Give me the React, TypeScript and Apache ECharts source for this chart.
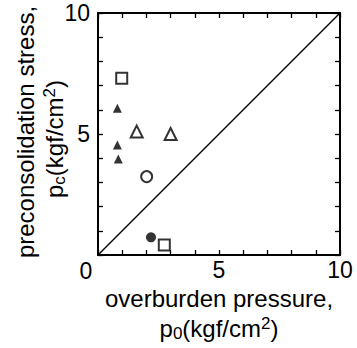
import React, { useEffect, useRef } from "react";
import * as echarts from "echarts";

const xTicks = [0, 5, 10];
const yTicks = [0, 5, 10];
const openSquares: number[][] = [[0.98, 7.3], [2.74, 0.41]];
const filledTriangles: number[][] = [[0.8, 6.06], [0.8, 4.55], [0.84, 3.97]];
const openTriangles: number[][] = [[1.6, 5.1], [3.0, 5.0]];
const openCircles: number[][] = [[2.01, 3.24]];
const filledCircles: number[][] = [[2.19, 0.73]];
const identityLine: number[][] = [[0, 0], [10, 10]];

const FONT = "'Liberation Sans', Arial, Helvetica, sans-serif";

export default function App() {
  const ref = useRef<HTMLDivElement>(null);
  useEffect(() => {
    if (!ref.current) return;
    const chart = echarts.init(ref.current, undefined, { renderer: "svg" });
    const axisCommon = {
      type: "value" as const,
      min: 0,
      max: 10,
      interval: 1,
      splitLine: { show: false },
      axisLine: { show: true, onZero: false, lineStyle: { color: "#000", width: 2 } },
      axisTick: { show: true, inside: true, length: 5, lineStyle: { color: "#000", width: 1.3 } },
    };
    const rich = {
      t: { fontSize: 24, fontFamily: FONT, fill: "#000", color: "#000", lineHeight: 30 },
      sub: { fontSize: 17, fontFamily: FONT, fill: "#000", color: "#000", lineHeight: 14, padding: [10, 0, 0, 0] },
      sup: { fontSize: 17, fontFamily: FONT, fill: "#000", color: "#000", lineHeight: 14, padding: [0, 0, 10, 0] },
    };
    const labelFmt = (v: number) => (xTicks.includes(v) && v !== 0 ? String(v) : "");
    const yLabelFmt = (v: number) => (yTicks.includes(v) && v !== 0 ? String(v) : "");
    chart.setOption({
      animation: false,
      backgroundColor: "#fff",
      grid: {
        left: 98,
        top: 13,
        width: 242,
        height: 242,
        show: false,
        containLabel: false,
        outerBoundsMode: "none",
      },
      xAxis: [
        {
          ...axisCommon,
          position: "bottom",
          axisLabel: { formatter: labelFmt, fontSize: 23, color: "#000", fontFamily: FONT, margin: 3 },
          name: "{t|overburden pressure,}\n{t|p}{sub|0}{t|(kgf/cm}{sup|2}{t|)}",
          nameLocation: "middle",
          nameGap: 28,
          nameTextStyle: { rich, color: "#000" },
        },
        { ...axisCommon, position: "top", axisLabel: { show: false } },
      ],
      yAxis: [
        {
          ...axisCommon,
          position: "left",
          axisLabel: { formatter: yLabelFmt, fontSize: 23, color: "#000", fontFamily: FONT, margin: 8 },
        },
        { ...axisCommon, position: "right", axisLabel: { show: false } },
      ],
      graphic: [
        {
          type: "text",
          style: {
            x: 86,
            y: 271,
            text: "0",
            fontSize: 23,
            fontFamily: FONT,
            fill: "#000",
            align: "center",
            verticalAlign: "middle",
          },
        },
        {
          type: "text",
          x: 25,
          y: 132,
          rotation: Math.PI / 2,
          style: {
            text: "{t|preconsolidation stress,}",
            rich,
            fill: "#000",
            align: "center",
            verticalAlign: "middle",
          },
        },
        {
          type: "text",
          x: 54,
          y: 139,
          rotation: Math.PI / 2,
          style: {
            text: "{t|p}{sub|c}{t|(kgf/cm}{sup|2}{t|)}",
            rich,
            fill: "#000",
            align: "center",
            verticalAlign: "middle",
          },
        },
      ],
      series: [
        {
          type: "line",
          data: identityLine,
          symbol: "none",
          lineStyle: { color: "#000", width: 1.5 },
        },
        {
          type: "scatter",
          data: openSquares,
          symbol: "rect",
          symbolSize: 11,
          itemStyle: { color: "#fff", borderColor: "#000", borderWidth: 2 },
        },
        {
          type: "scatter",
          data: filledTriangles,
          symbol: "triangle",
          symbolSize: 9,
          itemStyle: { color: "#000" },
        },
        {
          type: "scatter",
          data: openTriangles,
          symbol: "triangle",
          symbolSize: 12,
          itemStyle: { color: "#fff", borderColor: "#000", borderWidth: 2 },
        },
        {
          type: "scatter",
          data: openCircles,
          symbol: "circle",
          symbolSize: 11,
          itemStyle: { color: "#fff", borderColor: "#000", borderWidth: 2 },
        },
        {
          type: "scatter",
          data: filledCircles,
          symbol: "circle",
          symbolSize: 10,
          itemStyle: { color: "#000" },
        },
      ],
    });
    return () => chart.dispose();
  }, []);
  return (
    <div
      ref={ref}
      style={{ position: "fixed", left: 0, top: 0, width: 357, height: 348, background: "#fff" }}
    />
  );
}
